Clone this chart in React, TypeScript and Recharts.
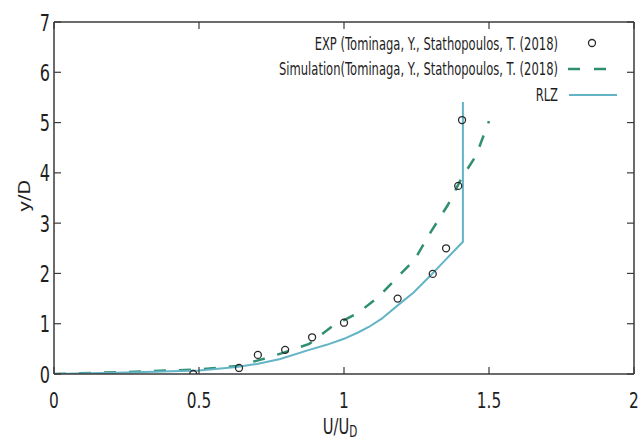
import React from 'react';
import { ComposedChart, Line, Scatter, XAxis, YAxis, Legend } from 'recharts';

// Axis ticks
const xTicks = [0, 0.5, 1, 1.5, 2];
const yTicks = [0, 1, 2, 3, 4, 5, 6, 7];

// Measured profile (circles)
const expU = [0.48, 0.638, 0.703, 0.797, 0.89, 1.0, 1.185, 1.306, 1.352, 1.394, 1.407];
const expY = [0.0, 0.12, 0.38, 0.48, 0.73, 1.02, 1.5, 1.99, 2.5, 3.74, 5.05];

// Reference simulation (dashed)
const simU = [0, 0.25, 0.5, 0.63, 0.71, 0.79, 0.88, 0.96, 1.05, 1.12, 1.18, 1.243, 1.3, 1.358, 1.405, 1.456, 1.5];
const simY = [0, 0.04, 0.09, 0.16, 0.28, 0.42, 0.6, 0.95, 1.22, 1.54, 1.9, 2.27, 2.83, 3.36, 3.89, 4.35, 5.03];

// Realizable k-epsilon result (solid)
const rlzU = [0, 0.25, 0.5, 0.63, 0.7, 0.78, 0.88, 0.94, 1.0, 1.05, 1.087, 1.13, 1.18, 1.24, 1.295, 1.35, 1.41, 1.41];
const rlzY = [0, 0.03, 0.07, 0.14, 0.2, 0.3, 0.48, 0.58, 0.7, 0.83, 0.94, 1.1, 1.34, 1.62, 1.94, 2.27, 2.63, 5.41];

const seriesNames = [
  'EXP (Tominaga, Y., Stathopoulos, T. (2018)',
  'Simulation(Tominaga, Y., Stathopoulos, T. (2018)',
  'RLZ',
];

const zip = (u: number[], y: number[]) => u.map((v, i) => ({ u: v, y: y[i] }));
const expData = zip(expU, expY);
const simData = zip(simU, simY);
const rlzData = zip(rlzU, rlzY);

const FONT = '"DejaVu Sans", Verdana, sans-serif';
const SQUEEZE = 0.7;
const AXIS = '#3a3a3a';
const TEXT = '#1e1e1e';
const TICK = 7;
const SIM_COLOR = '#2e8f72';
const RLZ_COLOR = '#62b4c6';
const EXP_COLOR = '#2a2a2a';

const BottomTick = (props: any) => {
  const { x, y, payload } = props;
  return (
    <g>
      <line x1={x} x2={x} y1={y} y2={y - TICK} stroke={AXIS} strokeWidth={1.2} />
      <text
        transform={`translate(${x},${y + 34}) scale(${SQUEEZE},1)`}
        textAnchor="middle"
        fontSize={22}
        fontFamily={FONT}
        fill={TEXT}
      >
        {payload.value}
      </text>
    </g>
  );
};

const LeftTick = (props: any) => {
  const { x, y, payload } = props;
  return (
    <g>
      <line x1={x} x2={x + TICK} y1={y} y2={y} stroke={AXIS} strokeWidth={1.2} />
      <text
        transform={`translate(${x - 4},${y + 8.5}) scale(${SQUEEZE},1)`}
        textAnchor="end"
        fontSize={23}
        fontFamily={FONT}
        fill={TEXT}
      >
        {payload.value}
      </text>
    </g>
  );
};

// Mirrored inward ticks on the top and right frame edges
const TopTick = (props: any) => {
  const { x, y } = props;
  return <line x1={x} x2={x} y1={y} y2={y + TICK} stroke={AXIS} strokeWidth={1.2} />;
};

const RightTick = (props: any) => {
  const { x, y } = props;
  return <line x1={x} x2={x - TICK} y1={y} y2={y} stroke={AXIS} strokeWidth={1.2} />;
};

const XTitle = (props: any) => {
  const { viewBox } = props;
  const cx = viewBox.x + viewBox.width / 2 - 4;
  const by = viewBox.y + 60;
  return (
    <text transform={`translate(${cx},${by}) scale(${SQUEEZE},1)`} fontFamily={FONT} fill={TEXT} textAnchor="middle">
      <tspan fontSize={21}>U/U</tspan>
      <tspan fontSize={15} dy={3}>D</tspan>
    </text>
  );
};

const YTitle = (props: any) => {
  const { viewBox } = props;
  const cx = viewBox.x + 30;
  const cy = viewBox.y + viewBox.height / 2 - 2;
  return (
    <text
      transform={`translate(${cx},${cy}) rotate(-90) scale(1,${SQUEEZE + 0.1})`}
      textAnchor="middle"
      fontSize={19}
      fontFamily={FONT}
      fill={TEXT}
    >
      y/D
    </text>
  );
};

const LegendBox = () => {
  const textEnd = 558;
  const rows = [49.5, 75, 101];
  return (
    <svg width={640} height={120} style={{ display: 'block' }}>
      {seriesNames.map((name, i) => (
        <text
          key={name}
          transform={`translate(${textEnd},${rows[i]}) scale(0.68,1)`}
          textAnchor="end"
          fontSize={17}
          fontFamily={FONT}
          fill={TEXT}
        >
          {name}
        </text>
      ))}
      <circle cx={592} cy={rows[0] - 6.5} r={3.5} fill="none" stroke={EXP_COLOR} strokeWidth={1.3} />
      <line x1={568} x2={610} y1={rows[1] - 6} y2={rows[1] - 6} stroke={SIM_COLOR} strokeWidth={2.5} strokeDasharray="12 14" />
      <line x1={569} x2={617} y1={rows[2] - 6} y2={rows[2] - 6} stroke={RLZ_COLOR} strokeWidth={2} />
    </svg>
  );
};

const ExpCircle = (props: any) => {
  const { cx, cy } = props;
  return <circle cx={cx} cy={cy} r={3.5} fill="none" stroke={EXP_COLOR} strokeWidth={1.3} />;
};

const NoMark = () => null;

export default function App() {
  return (
    <div style={{ position: 'absolute', left: 0, top: 0, width: 640, height: 439, background: '#fff' }}>
      <ComposedChart width={640} height={439} margin={{ top: 21, right: 5, bottom: 0, left: 0 }}>
        <XAxis
          type="number"
          dataKey="u"
          domain={[0, 2]}
          ticks={xTicks}
          height={65}
          tickLine={false}
          tickSize={0}
          tickMargin={0}
          tick={<BottomTick />}
          axisLine={{ stroke: AXIS, strokeWidth: 1.5 }}
          label={<XTitle />}
          allowDataOverflow
        />
        <XAxis
          xAxisId="top"
          orientation="top"
          type="number"
          dataKey="u"
          domain={[0, 2]}
          ticks={xTicks}
          height={1}
          tickLine={false}
          tickSize={0}
          tickMargin={0}
          tick={<TopTick />}
          axisLine={{ stroke: AXIS, strokeWidth: 1.5 }}
          allowDataOverflow
        />
        <YAxis
          type="number"
          dataKey="y"
          domain={[0, 7]}
          ticks={yTicks}
          width={54}
          tickLine={false}
          tickSize={0}
          tickMargin={0}
          tick={<LeftTick />}
          axisLine={{ stroke: AXIS, strokeWidth: 1.5 }}
          label={<YTitle />}
          allowDataOverflow
        />
        <YAxis
          yAxisId="right"
          orientation="right"
          type="number"
          dataKey="y"
          domain={[0, 7]}
          ticks={yTicks}
          width={1}
          tickLine={false}
          tickSize={0}
          tickMargin={0}
          tick={<RightTick />}
          axisLine={{ stroke: AXIS, strokeWidth: 1.5 }}
          allowDataOverflow
        />
        <Legend
          layout="horizontal"
          verticalAlign="middle"
          align="center"
          wrapperStyle={{ position: 'absolute', left: 0, top: 0, width: 640, height: 120 }}
          content={<LegendBox />}
        />
        <Line
          name={seriesNames[1]}
          data={simData}
          dataKey="y"
          type="linear"
          stroke={SIM_COLOR}
          strokeWidth={2.5}
          strokeDasharray="12 13"
          dot={false}
          isAnimationActive={false}
        />
        <Line
          name={seriesNames[2]}
          data={rlzData}
          dataKey="y"
          type="linear"
          stroke={RLZ_COLOR}
          strokeWidth={2}
          dot={false}
          isAnimationActive={false}
        />
        <Scatter
          name={seriesNames[0]}
          data={expData}
          dataKey="y"
          shape={<ExpCircle />}
          isAnimationActive={false}
        />
        {/* binds the mirrored frame axes so they are laid out and drawn */}
        <Scatter
          xAxisId="top"
          yAxisId="right"
          data={expData}
          dataKey="y"
          shape={<NoMark />}
          legendType="none"
          isAnimationActive={false}
        />
      </ComposedChart>
    </div>
  );
}
